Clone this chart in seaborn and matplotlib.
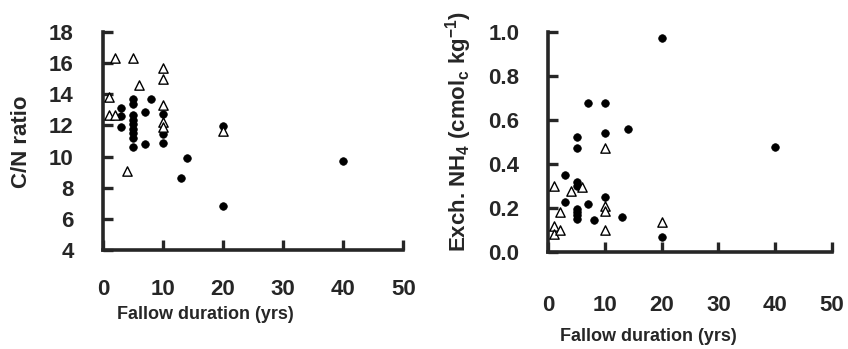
import numpy as np
import pandas as pd
import matplotlib
matplotlib.use("Agg")
import matplotlib.pyplot as plt
import seaborn as sns

sns.set_style("ticks")
plt.rcParams["font.family"] = ["Liberation Sans", "DejaVu Sans"]
plt.rcParams["font.weight"] = "bold"
plt.rcParams["mathtext.fontset"] = "custom"
plt.rcParams["mathtext.rm"] = "Liberation Sans:bold"
plt.rcParams["mathtext.default"] = "rm"

# C/N ratio panel
cn_filled_x = [3, 3, 3, 5, 5, 5, 5, 5, 5, 5, 5, 5, 7, 7, 8, 10, 10, 10, 13, 14, 20, 20, 40]
cn_filled_y = [13.1, 12.6, 11.9, 13.7, 13.4, 12.65, 12.35, 12.1, 11.8, 11.5, 11.2, 10.6,
               12.85, 10.8, 13.7, 12.75, 11.45, 10.9, 8.6, 9.9, 11.95, 6.8, 9.7]
cn_open_x = [1, 1, 2, 2, 4, 5, 6, 10, 10, 10, 10, 10, 20]
cn_open_y = [13.8, 12.7, 16.3, 12.65, 9.05, 16.3, 14.6, 15.7, 15.0, 13.3, 12.2, 11.9, 11.65]

# Exchangeable NH4 panel
nh4_filled_x = [3, 3, 5, 5, 5, 5, 5, 5, 5, 5, 7, 7, 8, 10, 10, 10, 13, 14, 20, 20, 40]
nh4_filled_y = [0.35, 0.227, 0.52, 0.47, 0.315, 0.30, 0.195, 0.18, 0.165, 0.15, 0.675,
                0.215, 0.145, 0.675, 0.538, 0.247, 0.156, 0.556, 0.97, 0.065, 0.475]
nh4_open_x = [1, 1, 1, 2, 2, 4, 6, 10, 10, 10, 10, 20]
nh4_open_y = [0.30, 0.115, 0.08, 0.18, 0.10, 0.277, 0.295, 0.47, 0.21, 0.185, 0.10, 0.136]

fig = plt.figure(figsize=(8.48, 3.49), dpi=100)
ax1 = fig.add_axes([0.1215, 0.2837, 0.354, 0.6246])
ax2 = fig.add_axes([0.6466, 0.2788, 0.3342, 0.630])


def draw(ax, fx, fy, ox, oy):
    sns.scatterplot(x=fx, y=fy, ax=ax, marker="o", color="black", s=30,
                    edgecolor="black", linewidth=0.5, zorder=3)
    sns.scatterplot(x=ox, y=oy, ax=ax, marker="^", facecolor="white", s=45,
                    edgecolor="black", linewidth=1.0, zorder=4)
    sns.despine(ax=ax)
    for sp in ["left", "bottom"]:
        ax.spines[sp].set_linewidth(2.6)
    ax.tick_params(direction="in", length=7, width=2.4, labelsize=16, pad=21)
    ax.set_xlim(0, 50)
    ax.set_xticks(range(0, 51, 10))
    for lab in ax.get_xticklabels() + ax.get_yticklabels():
        lab.set_fontweight("bold")


draw(ax1, cn_filled_x, cn_filled_y, cn_open_x, cn_open_y)
ax1.set_ylim(4, 18)
ax1.set_yticks(range(4, 19, 2))
ax1.set_xlabel("Fallow duration (yrs)", fontsize=13, fontweight="bold")
ax1.set_ylabel("C/N ratio", fontsize=16, fontweight="bold")
ax1.xaxis.set_label_coords(0.34, -0.255)
ax1.yaxis.set_label_coords(-0.237, 0.495)

draw(ax2, nh4_filled_x, nh4_filled_y, nh4_open_x, nh4_open_y)
ax2.set_ylim(0, 1.0)
ax2.set_yticks(np.arange(0, 1.01, 0.2))
ax2.set_yticklabels([f"{v:.1f}" for v in np.arange(0, 1.01, 0.2)], fontweight="bold")
ax2.tick_params(axis="x", pad=31)
ax2.set_xlabel("Fallow duration (yrs)", fontsize=13, fontweight="bold")
ax2.set_ylabel(r"Exch. NH$_4$ (cmol$_c$ kg$^{-1}$)", fontsize=16, fontweight="bold")
ax2.xaxis.set_label_coords(0.354, -0.345)
ax2.yaxis.set_label_coords(-0.262, 0.546)

fig.savefig("out.png", dpi=100)
